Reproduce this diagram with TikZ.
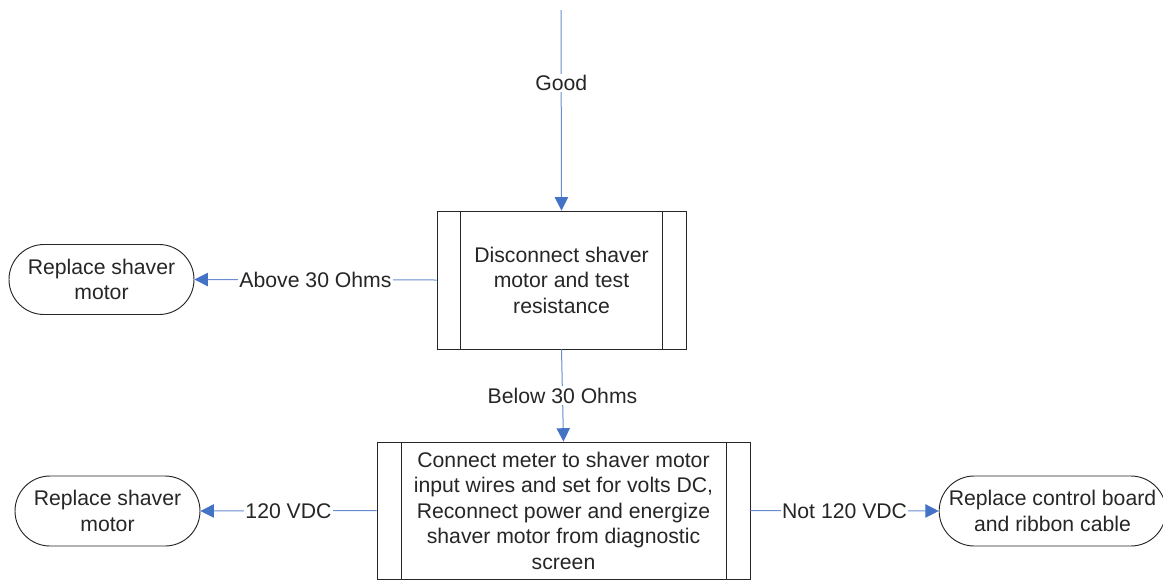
\documentclass[tikz,border=0pt]{standalone}
\usepackage{fontspec}
\setmainfont{Liberation Sans}
\usepackage{xcolor}
\usetikzlibrary{shapes.misc, arrows.meta, positioning, calc}

\definecolor{flowblue}{RGB}{68,114,196}
\definecolor{linkblue}{RGB}{105,142,208}
\definecolor{inkgray}{RGB}{38,38,38}

\begin{document}
\begin{tikzpicture}[x=0.75pt, y=-0.75pt,
  every node/.style={font=\fontsize{15.9}{19.1}\selectfont, text=inkgray},
  proc/.style={rectangle, draw=inkgray, line width=0.7pt, align=center, fill=white},
  term/.style={rounded rectangle, draw=inkgray, line width=0.7pt, align=center,
               minimum height=52.5pt, inner sep=0pt},
  lbl/.style={fill=white, inner sep=1pt},
  arr/.style={-{Triangle[length=10pt, width=10pt, color=flowblue]}, draw=linkblue,
              line width=0.75pt}
]
\useasboundingbox (0,0) rectangle (1163,582);

\coordinate (top) at (561,10);
\node[proc, minimum width=186.75pt, minimum height=103.5pt] (p1) at (561.5,280)
  {Disconnect shaver\\motor and test\\resistance};
\node[proc, minimum width=279.75pt, minimum height=102.75pt] (p2) at (563.5,510.5)
  {Connect meter to shaver motor\\input wires and set for volts DC,\\Reconnect power and energize\\shaver motor from diagnostic\\screen};
\node[term, minimum width=138.75pt] (t1) at (101.5,279.5) {Replace shaver\\motor};
\node[term, minimum width=138.75pt] (t2) at (107.5,511) {Replace shaver\\motor};
\node[term, minimum width=170pt] (t3) at (1052.5,511) {Replace control board\\and ribbon cable};

% predefined process side bars
\draw[inkgray, line width=0.7pt] ([xshift=18pt]p1.north west) -- ([xshift=18pt]p1.south west)
  ([xshift=-18pt]p1.north east) -- ([xshift=-18pt]p1.south east);
\draw[inkgray, line width=0.7pt] ([xshift=18.75pt]p2.north west) -- ([xshift=18.75pt]p2.south west)
  ([xshift=-18pt]p2.north east) -- ([xshift=-18pt]p2.south east);

\draw[arr] (top) -- node[lbl, pos=0.365] {Good} (p1.north);
\draw[arr] (p1.west) -- node[lbl, pos=0.5] {Above 30 Ohms} (t1.east);
\draw[arr] (p1.south) -- node[lbl, pos=0.5] {Below 30 Ohms} (p2.north);
\draw[arr] (p2.west) -- node[lbl, pos=0.5] {120 VDC} (t2.east);
\draw[arr] (p2.east) -- node[lbl, pos=0.5] {Not 120 VDC} (t3.west);
\end{tikzpicture}
\end{document}
